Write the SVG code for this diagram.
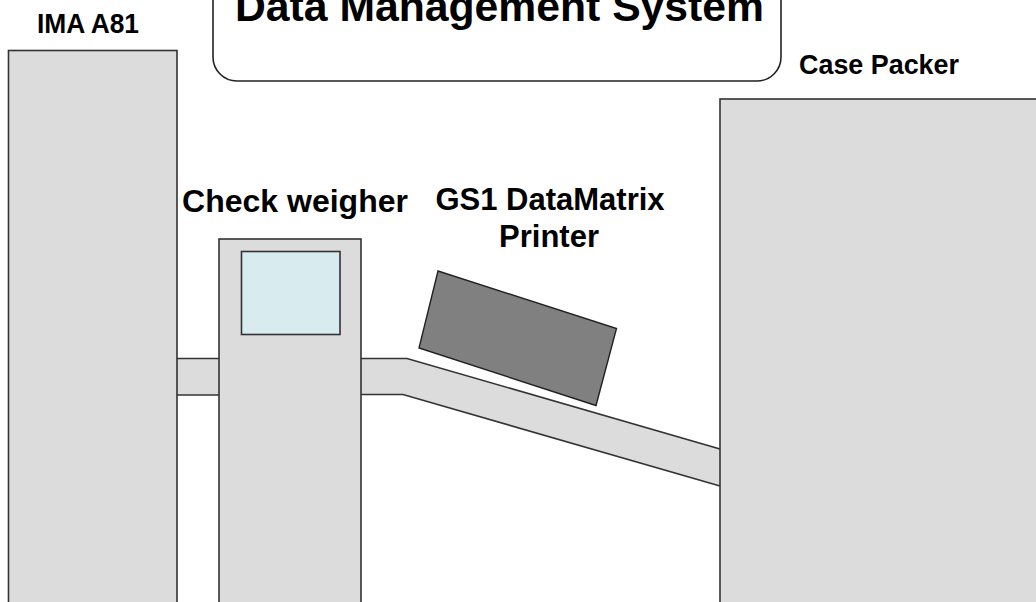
<svg xmlns="http://www.w3.org/2000/svg" width="1036" height="602" viewBox="0 0 1036 602">
<style>
.m{fill:#dcdcdc;stroke:#333;stroke-width:1.6}
.ln{fill:none;stroke:#333;stroke-width:1.6}
.lb{font-family:"Liberation Sans",Arial,sans-serif;font-weight:bold;fill:#000}
</style>
<rect width="1036" height="602" fill="#fff"/>
<g id="connectors">
<rect x="176" y="358.5" width="44" height="36.5" fill="#dcdcdc"/>
<line class="ln" x1="177" y1="358.5" x2="219" y2="358.5"/>
<line class="ln" x1="177" y1="395" x2="219" y2="395"/>
<polygon points="360,358.5 407,358.5 721,449 721,486 403,394.5 360,394.5" fill="#dcdcdc"/>
<polyline class="ln" points="361,358.5 407,358.5 720,449"/>
<polyline class="ln" points="361,394.5 403,394.5 720,486"/>
</g>
<g id="dms">
<rect x="213" y="-40" width="568" height="121" rx="24" ry="24" fill="#fff" stroke="#222" stroke-width="1.6"/>
<text class="lb" x="499.5" y="21" font-size="42" text-anchor="middle" textLength="529" lengthAdjust="spacingAndGlyphs">Data Management System</text>
</g>
<g id="ima">
<rect class="m" x="8.5" y="50.5" width="168.5" height="560"/>
<text class="lb" x="37" y="33" font-size="28" textLength="102" lengthAdjust="spacingAndGlyphs">IMA A81</text>
</g>
<g id="checkweigher">
<rect class="m" x="219" y="239" width="142" height="380"/>
<rect x="241.5" y="251.5" width="98.5" height="83" fill="#d8ebee" stroke="#333" stroke-width="1.6"/>
<text class="lb" x="295" y="212" font-size="32" text-anchor="middle">Check weigher</text>
</g>
<g id="printer">
<polygon points="438,271 616.5,328.5 596,405.5 419,348" fill="#808080" stroke="#222" stroke-width="1.4"/>
<text class="lb" x="550" y="210" font-size="31" text-anchor="middle">GS1 DataMatrix</text>
<text class="lb" x="549" y="247" font-size="31" text-anchor="middle">Printer</text>
</g>
<g id="casepacker">
<rect class="m" x="720" y="99" width="330" height="520"/>
<text class="lb" x="799" y="74" font-size="28" textLength="160" lengthAdjust="spacingAndGlyphs">Case Packer</text>
</g>
</svg>
